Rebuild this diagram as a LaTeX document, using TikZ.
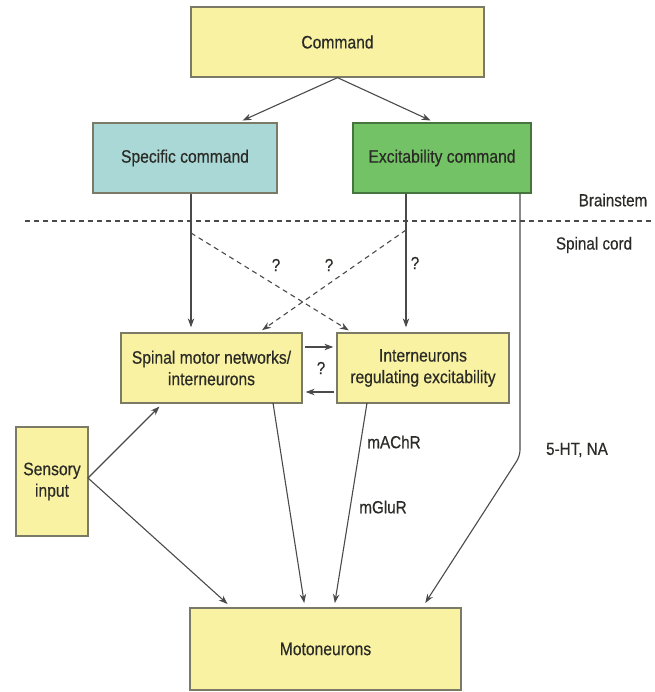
\documentclass[tikz,border=0pt]{standalone}
\usepackage{fontspec}
\setmainfont{Liberation Sans}[FakeStretch=0.87,FakeBold=0.4]
\usetikzlibrary{arrows.meta,calc}
\definecolor{boxyellow}{HTML}{F8F2A2}
\definecolor{boxcyan}{HTML}{A9D8D6}
\definecolor{boxgreen}{HTML}{74C266}
\definecolor{edgegray}{HTML}{7A7A66}
\definecolor{linegray}{HTML}{4A4A4A}
\definecolor{txt}{HTML}{2A2A26}
\tikzset{
  box/.style={draw=edgegray, line width=1.3pt, inner sep=0pt, align=center,
    font=\fontsize{18}{21.5}\selectfont, text=txt},
  arr/.style={draw=linegray, line width=1.1pt, -{Stealth[length=9pt,width=6.5pt]}},
  darr/.style={arr, dash pattern=on 5pt off 4pt},
  lbl/.style={font=\fontsize{17.5}{20}\selectfont, text=txt, inner sep=0pt}
}
\begin{document}
\begin{tikzpicture}[x=1pt,y=-1pt]
\useasboundingbox (0,0) rectangle (654,692);
\fill[white] (0,0) rectangle (654,692);
% boxes
\node[box, fill=boxyellow, minimum width=293pt, minimum height=70pt] (cmd) at (337.5,42) {Command};
\node[box, fill=boxcyan, minimum width=184pt, minimum height=70pt] (spec) at (185,158) {Specific command};
\node[box, fill=boxgreen, draw=boxgreen!60!black, minimum width=178pt, minimum height=70pt] (exc) at (442,158) {Excitability command};
\node[box, fill=boxyellow, minimum width=181pt, minimum height=70pt] (spin) at (211.5,368) {Spinal motor networks/\\interneurons};
\node[box, fill=boxyellow, minimum width=172pt, minimum height=70pt] (int) at (423,368) {Interneurons\\regulating excitability};
\node[box, fill=boxyellow, minimum width=72pt, minimum height=109pt] (sens) at (52,481.5) {Sensory\\input};
\node[box, fill=boxyellow, minimum width=271pt, minimum height=82pt] (moto) at (325.5,649) {Motoneurons};
% labels
\node[lbl] (brain) at (613,200) {Brainstem};
\node[lbl] (cord) at (594,245) {Spinal cord};
\node[lbl] (q1) at (276,265) {?};
\node[lbl] (q2) at (329,265) {?};
\node[lbl] (q3) at (415,263) {?};
\node[lbl] (q4) at (321,368) {?};
\node[lbl] (machr) at (394,442) {mAChR};
\node[lbl] (mglur) at (383,507) {mGluR};
\node[lbl] (ht) at (577,450) {5-HT, NA};
% coordinates
\coordinate (dl) at (25,221);
\coordinate (dr) at (654,221);
\coordinate (c1) at (237,123);
\coordinate (c2) at (436,123);
\coordinate (sv) at (191,0);
\coordinate (ev) at (406,0);
\coordinate (hv) at (520,0);
\coordinate (hbend) at (520,456);
\coordinate (hend) at (422,608);
\coordinate (da1) at (191,233);
\coordinate (da2) at (353,333);
\coordinate (db1) at (406,230);
\coordinate (db2) at (258,333);
\coordinate (yr) at (0,347);
\coordinate (yl) at (0,392);
\coordinate (sp) at (88,478);
\coordinate (sup) at (163,403);
\coordinate (sdn) at (232,608);
\coordinate (m1a) at (273,403);
\coordinate (m1b) at (305,608);
\coordinate (m2a) at (367,403);
\coordinate (m2b) at (334,608);
% divider
\draw[linegray, line width=1.1pt, dash pattern=on 5pt off 4pt] (dl) -- (dr);
% connectors
\draw[arr, shorten >=6pt] (cmd.south) -- (c1);
\draw[arr, shorten >=6pt] (cmd.south) -- (c2);
\draw[arr, shorten >=5pt] (spec.south -| sv) -- (spin.north -| sv);
\draw[arr, shorten >=5pt] (exc.south -| ev) -- (int.north -| ev);
\draw[arr, shorten >=6pt, rounded corners=6pt] (exc.south -| hv) -- (hbend) -- (hend);
\draw[darr, shorten >=5pt] (da1) -- (da2);
\draw[darr, shorten >=5pt] (db1) -- (db2);
\draw[arr, shorten >=3pt, shorten <=2pt] (spin.east |- yr) -- (int.west |- yr);
\draw[arr, shorten >=3pt, shorten <=2pt] (int.west |- yl) -- (spin.east |- yl);
\draw[arr, shorten >=5pt] (sp) -- (sup);
\draw[arr, shorten >=6pt] (sp) -- (sdn);
\draw[arr, shorten >=5pt] (m1a) -- (m1b);
\draw[arr, shorten >=5pt] (m2a) -- (m2b);
\end{tikzpicture}
\end{document}
